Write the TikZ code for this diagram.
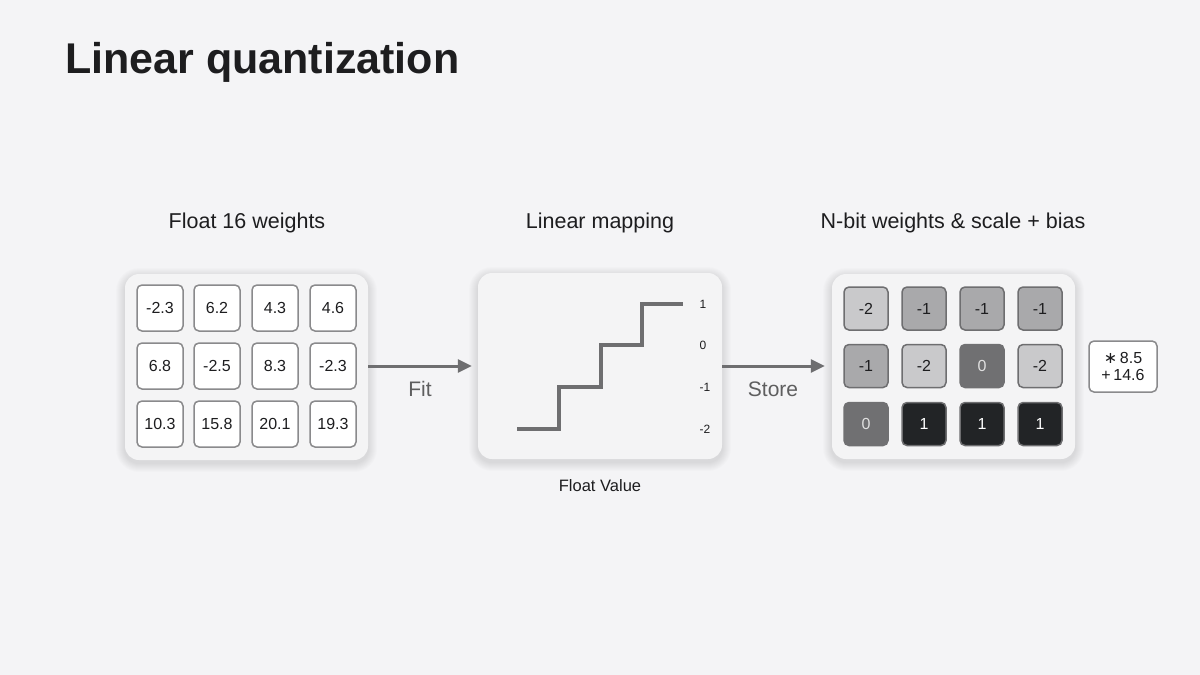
\documentclass[tikz,border=0pt]{standalone}
\usepackage{fontspec}
\setmainfont{Liberation Sans}
\newfontfamily\symfont{DejaVu Sans}
\usetikzlibrary{arrows.meta}
\definecolor{bg}{HTML}{F4F4F6}
\definecolor{panelfill}{HTML}{F4F4F5}
\definecolor{cellborder}{HTML}{8A8A8C}
\definecolor{ink}{HTML}{1D1D1F}
\definecolor{stair}{HTML}{6E6E70}
\definecolor{lvA}{HTML}{C9C9CB}
\definecolor{lvB}{HTML}{A9A9AB}
\definecolor{lvC}{HTML}{707072}
\definecolor{lvD}{HTML}{222426}
\definecolor{qborder}{HTML}{6E6E70}
\tikzset{
  panel/.style={fill=panelfill, rounded corners=14pt, inner sep=0pt},
  wcell/.style={draw=cellborder, line width=1.5pt, fill=white, rounded corners=5pt,
    minimum width=46pt, minimum height=46pt, inner sep=0pt, text=ink,
    font=\fontsize{16}{19}\selectfont},
  qcell/.style={draw=qborder, line width=1.5pt, rounded corners=5pt,
    minimum width=44pt, minimum height=43pt, inner sep=0pt,
    font=\fontsize{16}{19}\selectfont},
  qa/.style={qcell, fill=lvA, text=ink},
  qb/.style={qcell, fill=lvB, text=ink},
  qc/.style={qcell, fill=lvC, draw=lvC, text=white!88!black},
  qd/.style={qcell, fill=lvD, text=white},
  heading/.style={font=\fontsize{21.5}{25}\selectfont, text=ink, anchor=base},
  arr/.style={draw=stair, line width=3pt, -{Triangle[length=14pt,width=13pt]}},
  arrlabel/.style={font=\fontsize{21}{25}\selectfont, text=stair!85!black},
  axis/.style={font=\fontsize{12}{14}\selectfont, text=ink, anchor=west},
}
\newcommand{\softshadow}[4]{%
  \foreach \i in {1,...,9}{
    \fill[black, opacity=0.013, rounded corners=14pt+\i pt]
      (#1-\i,#2-\i+3) rectangle (#3+\i,#4+\i+3);
  }%
}
\begin{document}
\begin{tikzpicture}[x=1pt,y=-1pt]
\fill[bg] (0,0) rectangle (1200,675);
\useasboundingbox (0,0) rectangle (1200,675);

% title
\node[anchor=base west, inner sep=0pt, font=\fontsize{43}{50}\selectfont\bfseries, text=ink] (title) at (65,73) {Linear quantization};

% headings
\node[heading] (h1) at (247,228) {Float 16 weights};
\node[heading] (h2) at (600,228) {Linear mapping};
\node[heading] (h3) at (953,228) {N-bit weights \& scale + bias};

% panels with soft shadows
\softshadow{125}{274}{368}{460}
\softshadow{478}{273}{722}{459}
\softshadow{832}{274}{1075}{459}
\node[panel, minimum width=243pt, minimum height=186pt] (p1) at (246.5,367) {};
\node[panel, minimum width=244pt, minimum height=186pt] (p2) at (600,366) {};
\node[panel, minimum width=243pt, minimum height=185pt] (p3) at (953.5,366.5) {};

% float cells
\node[wcell] (w11) at (160,308) {-2.3};
\node[wcell] (w12) at (217,308) {6.2};
\node[wcell] (w13) at (275,308) {4.3};
\node[wcell] (w14) at (333,308) {4.6};
\node[wcell] (w21) at (160,366) {6.8};
\node[wcell] (w22) at (217,366) {-2.5};
\node[wcell] (w23) at (275,366) {8.3};
\node[wcell] (w24) at (333,366) {-2.3};
\node[wcell] (w31) at (160,424) {10.3};
\node[wcell] (w32) at (217,424) {15.8};
\node[wcell] (w33) at (275,424) {20.1};
\node[wcell] (w34) at (333,424) {19.3};

% staircase
\draw[stair, line width=4pt, line join=miter]
  (517,429) -- (559,429) -- (559,387) -- (601,387) -- (601,345) -- (642,345) -- (642,304) -- (683,304);
\node[axis] (a1) at (696,304) {1};
\node[axis] (a0) at (696,345) {0};
\node[axis] (am1) at (696,387) {-1};
\node[axis] (am2) at (696,429) {-2};
\node[font=\fontsize{16.5}{19}\selectfont, text=ink, anchor=base] (fv) at (600,491) {Float Value};

% quantized cells
\node[qa] (q11) at (866,308.5) {-2};
\node[qb] (q12) at (924,308.5) {-1};
\node[qb] (q13) at (982,308.5) {-1};
\node[qb] (q14) at (1040,308.5) {-1};
\node[qb] (q21) at (866,366) {-1};
\node[qa] (q22) at (924,366) {-2};
\node[qc] (q23) at (982,366) {0};
\node[qa] (q24) at (1040,366) {-2};
\node[qc] (q31) at (866,424) {0};
\node[qd] (q32) at (924,424) {1};
\node[qd] (q33) at (982,424) {1};
\node[qd] (q34) at (1040,424) {1};

% scale + bias box
\node[draw=cellborder, line width=1.5pt, fill=white, rounded corners=5pt,
  minimum width=68pt, minimum height=51pt, inner sep=0pt, align=center,
  text=ink, font=\fontsize{16}{17}\selectfont] (sb) at (1123,366.5)
  {{\symfont ∗}\,8.5\\+\,14.6};

% arrows
\draw[arr, shorten >=6pt] (p1.east |- w24) -- (p2.west |- w24);
\draw[arr, shorten >=7pt] (p2.east |- q23) -- (p3.west |- q23);
\node[arrlabel] (fit) at (420,389) {Fit};
\node[arrlabel] (store) at (773,389) {Store};
\end{tikzpicture}
\end{document}
